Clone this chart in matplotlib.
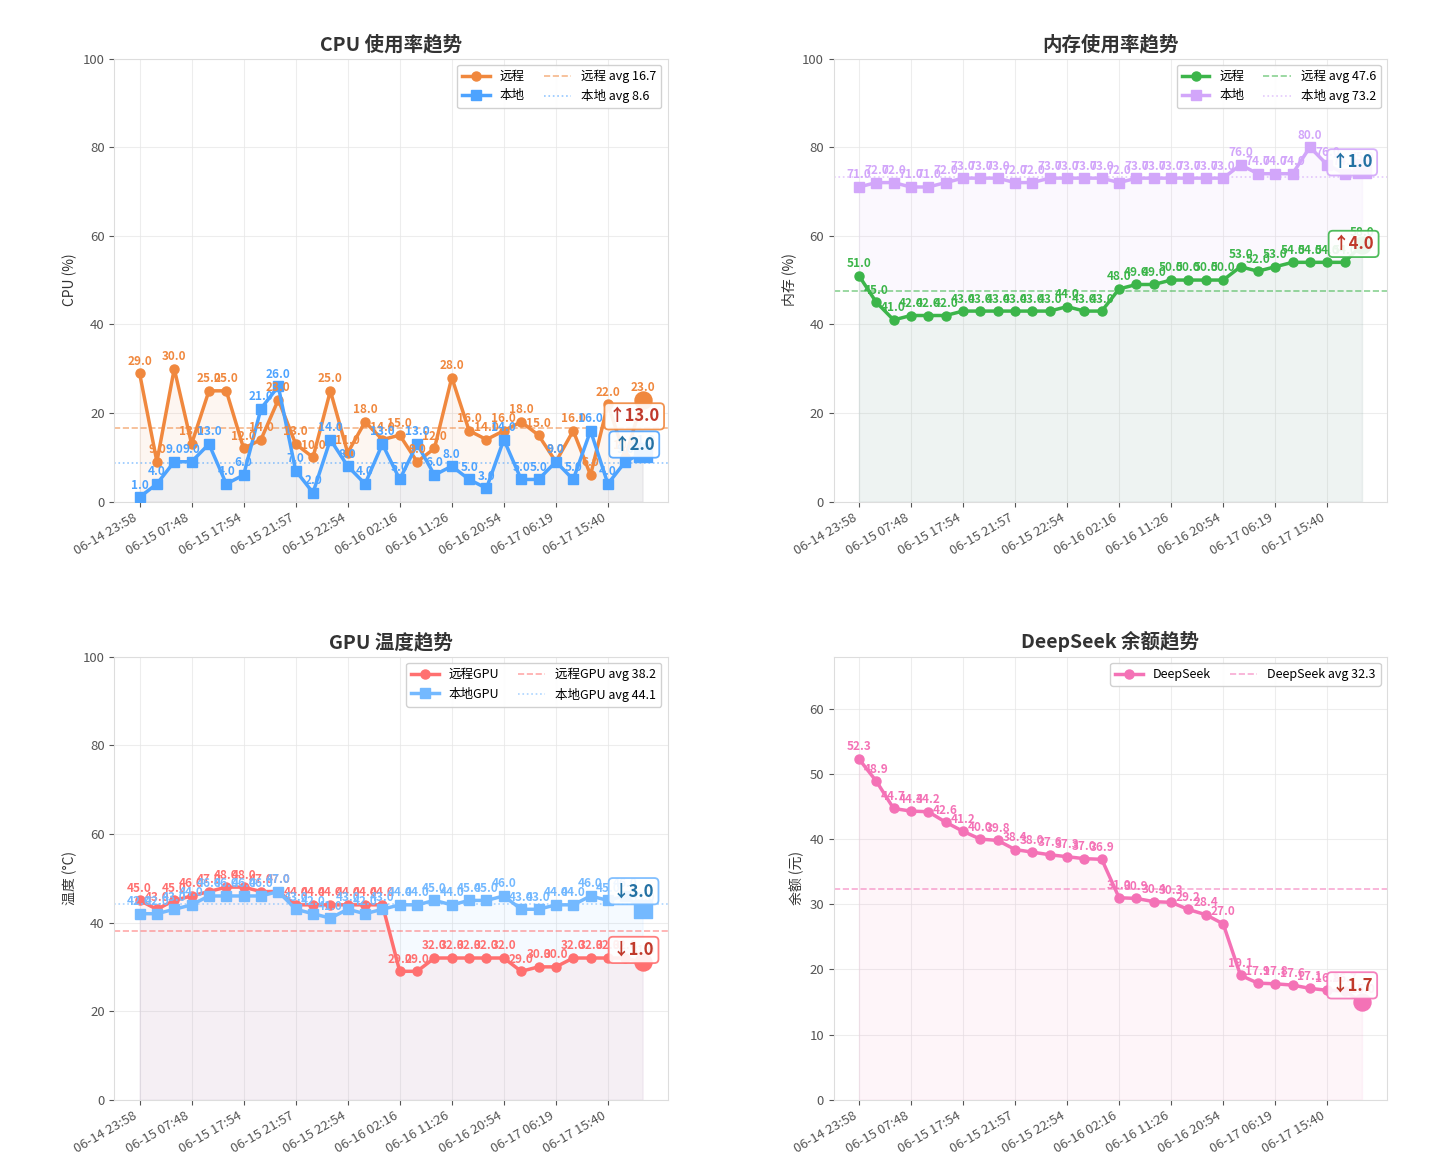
import numpy as np
import matplotlib
matplotlib.use("Agg")
import matplotlib.pyplot as plt

plt.rcParams['font.family'] = ['Noto Sans CJK SC', 'DejaVu Sans']
plt.rcParams['axes.unicode_minus'] = False

# x轴时间标签 (每3个点一个)
time_ticks = ['06-14 23:58', '06-15 07:48', '06-15 17:54', '06-15 21:57',
              '06-15 22:54', '06-16 02:16', '06-16 11:26', '06-16 20:54',
              '06-17 06:19', '06-17 15:40']

cpu_remote = [29, 9, 30, 13, 25, 25, 12, 14, 23, 13, 10, 25, 11, 18, 14,
              15, 9, 12, 28, 16, 14, 16, 18, 15, 9, 16, 6, 22, 10, 23]
cpu_local = [1, 4, 9, 9, 13, 4, 6, 21, 26, 7, 2, 14, 8, 4, 13,
             5, 13, 6, 8, 5, 3, 14, 5, 5, 9, 5, 16, 4, 9, 11]

mem_remote = [51, 45, 41, 42, 42, 42, 43, 43, 43, 43, 43, 43, 44, 43, 43,
              48, 49, 49, 50, 50, 50, 50, 53, 52, 53, 54, 54, 54, 54, 58]
mem_local = [71, 72, 72, 71, 71, 72, 73, 73, 73, 72, 72, 73, 73, 73, 73,
             72, 73, 73, 73, 73, 73, 73, 76, 74, 74, 74, 80, 76, 74, 75]

gpu_remote = [45, 43, 45, 46, 47, 48, 48, 47, 47, 44, 44, 44, 44, 44, 44,
              29, 29, 32, 32, 32, 32, 32, 29, 30, 30, 32, 32, 32, 32, 31]
gpu_local = [42, 42, 43, 44, 46, 46, 46, 46, 47, 43, 42, 41, 43, 42, 43,
             44, 44, 45, 44, 45, 45, 46, 43, 43, 44, 44, 46, 45, 46, 43]

deepseek = [52.3, 48.9, 44.7, 44.3, 44.2, 42.6, 41.2, 40.0, 39.8, 38.4,
            38.0, 37.6, 37.3, 37.0, 36.9, 31.0, 30.9, 30.4, 30.3, 29.2,
            28.4, 27.0, 19.1, 17.9, 17.8, 17.6, 17.1, 16.8, 16.7, 15.0]

UP_RED = '#c0392b'
DOWN_BLUE = '#2471a3'


def draw_series(ax, x, y, name, color, marker, ls_avg, delta_color, offset):
    y = np.array(y, dtype=float)
    line, = ax.plot(x, y, color=color, marker=marker, markersize=6.5,
                    linewidth=2.5, label=name, zorder=3)
    ax.fill_between(x, 0, y, color=color, alpha=0.07, zorder=1)
    for xi, yi in zip(x, y):
        ax.annotate(f'{yi:.1f}', (xi, yi), xytext=(0, 4),
                    textcoords='offset points', ha='center', va='bottom',
                    fontsize=8.5, fontweight='bold', color=color, zorder=4)
    avg = y.mean()
    avg_line = ax.axhline(avg, color=color, linestyle=ls_avg, linewidth=1.2,
                          alpha=0.6, label=f'{name} avg {avg:.1f}', zorder=2)
    # 最后一个点 + 变化量
    ax.scatter([x[-1]], [y[-1]], s=150, color=color, marker=marker, zorder=5)
    diff = y[-1] - y[-2]
    arrow = '↑' if diff >= 0 else '↓'
    ax.annotate(f'{arrow}{abs(diff):.1f}', (x[-1], y[-1]), xytext=offset,
                textcoords='offset points', ha='center', va='center',
                fontsize=12, fontweight='bold', color=delta_color, zorder=6,
                bbox=dict(boxstyle='round,pad=0.25', fc='white', ec=color,
                          lw=1.3, alpha=0.9))
    return line, avg_line


def style_axes(ax, title, ylabel, n, ylim, handles):
    ax.set_title(title, fontsize=14, fontweight='bold', color='#333333', pad=6)
    ax.set_ylabel(ylabel, fontsize=10, color='#333333')
    ax.set_ylim(0, ylim)
    ax.set_xticks(range(0, n, 3))
    ax.set_xticklabels(time_ticks, rotation=30, ha='right', fontsize=9.5,
                       color='#555555')
    ax.tick_params(axis='y', labelsize=9.5, colors='#555555')
    ax.tick_params(axis='x', colors='#555555')
    ax.grid(True, color='#e6e6e6', linewidth=0.8, alpha=0.7)
    ax.set_axisbelow(True)
    for sp in ax.spines.values():
        sp.set_color('#dddddd')
    lines = [h[0] for h in handles] + [h[1] for h in handles]
    ax.legend(handles=lines, ncol=2, loc='upper right', fontsize=9,
              framealpha=0.9, handlelength=2.2, columnspacing=1.5)


fig, axes = plt.subplots(2, 2, figsize=(14.3, 11.7), dpi=100)
fig.subplots_adjust(left=0.08, right=0.97, top=0.95, bottom=0.06,
                    wspace=0.3, hspace=0.35)
x = np.arange(len(cpu_remote))

# CPU
ax = axes[0, 0]
a = draw_series(ax, x, cpu_remote, '远程', '#f0883e', 'o', '--', UP_RED, (-6, -12))
b = draw_series(ax, x, cpu_local, '本地', '#4da3ff', 's', ':', DOWN_BLUE, (-6, 6))
style_axes(ax, 'CPU 使用率趋势', 'CPU (%)', len(x), 100, [a, b])

# 内存
ax = axes[0, 1]
a = draw_series(ax, x, mem_remote, '远程', '#3cb54a', 'o', '--', UP_RED, (-6, 0.5))
b = draw_series(ax, x, mem_local, '本地', '#d2a6fa', 's', ':', DOWN_BLUE, (-7, 5))
style_axes(ax, '内存使用率趋势', '内存 (%)', len(x), 100, [a, b])

# GPU
ax = axes[1, 0]
a = draw_series(ax, x, gpu_remote, '远程GPU', '#ff7070', 'o', '--', UP_RED, (-6.5, 9))
b = draw_series(ax, x, gpu_local, '本地GPU', '#74b9ff', 's', ':', DOWN_BLUE, (-6.5, 13))
style_axes(ax, 'GPU 温度趋势', '温度 (°C)', len(x), 100, [a, b])

# DeepSeek
ax = axes[1, 1]
a = draw_series(ax, x, deepseek, 'DeepSeek', '#f472b6', 'o', '--', UP_RED, (-7, 12))
style_axes(ax, 'DeepSeek 余额趋势', '余额 (元)', len(x), max(deepseek) * 1.3, [a])

plt.savefig('out.png', dpi=100, facecolor='white')
